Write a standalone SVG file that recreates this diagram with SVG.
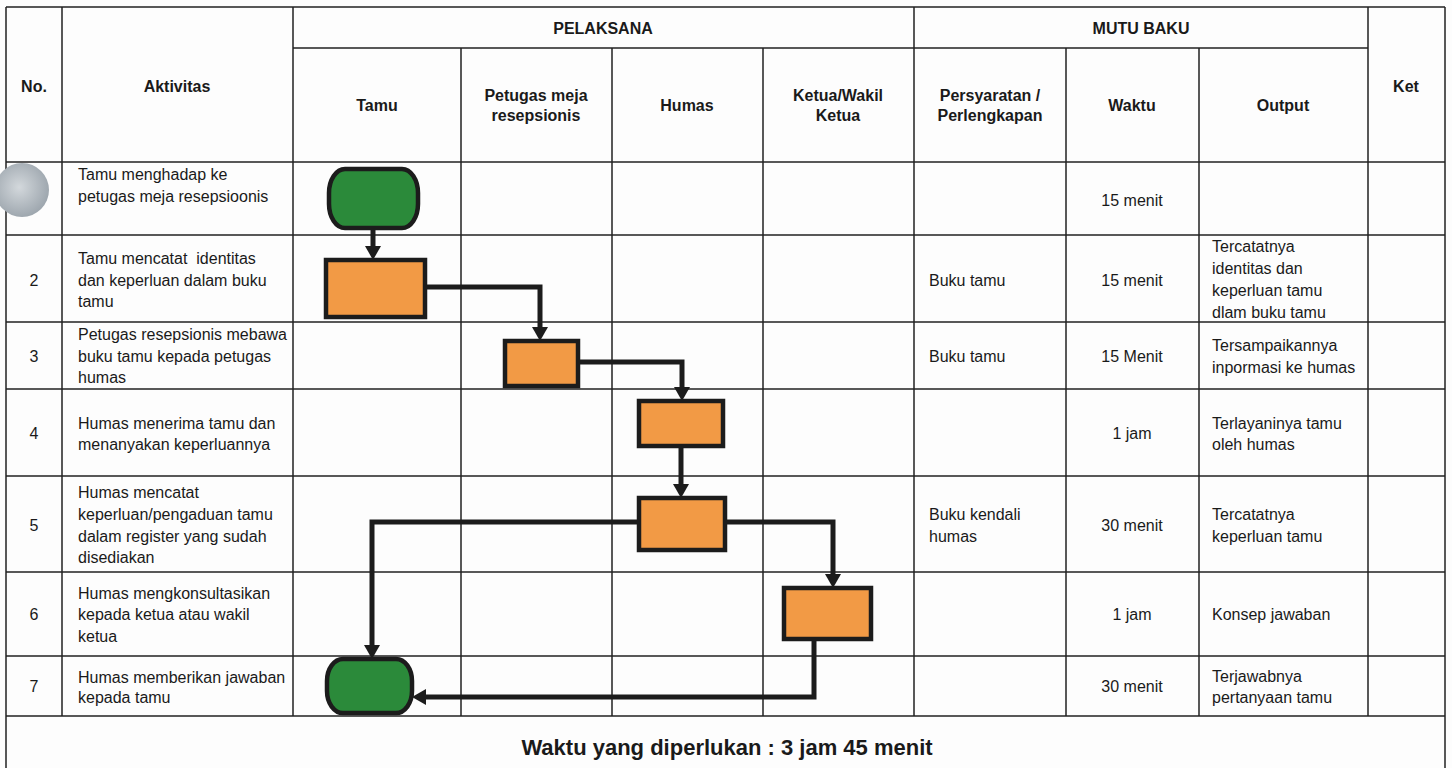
<svg xmlns="http://www.w3.org/2000/svg" width="1452" height="768" viewBox="0 0 1452 768">
<defs>
<style>
.g{stroke:#222;stroke-width:1.5;fill:none}
.t{font-family:"Liberation Sans Narrow","Liberation Sans",Arial,sans-serif;font-size:16px;fill:#1a1a1a}
.c{text-anchor:middle}
.b{font-weight:bold}
.proc{fill:#f29a45;stroke:#1c1c1c;stroke-width:4.5}
.term{fill:#2b8a3a;stroke:#1c1c1c;stroke-width:4.5}
.conn{fill:none;stroke:#1c1c1c;stroke-width:5}
</style>
<marker id="ah" viewBox="0 0 14 16" refX="1" refY="8" markerWidth="14" markerHeight="16" markerUnits="userSpaceOnUse" orient="auto"><path d="M0,0 L14,8 L0,16 z" fill="#1c1c1c"/></marker>
<radialGradient id="hole" cx="0.45" cy="0.45" r="0.6"><stop offset="0" stop-color="#d3d8dc"/><stop offset="1" stop-color="#9aa3ab"/></radialGradient>
</defs>
<rect width="1452" height="768" fill="#fdfdfd"/>
<g id="grid">
<path class="g" d="M6,7 H1445 M6,7 V768 M1445,7 V768 M293,48 H1368 M6,162 H1445 M6,235 H1445 M6,322 H1445 M6,389 H1445 M6,476 H1445 M6,572 H1445 M6,656 H1445 M6,716 H1445 M62,7 V716 M293,7 V716 M461,48 V716 M612,48 V716 M763,48 V716 M914,7 V716 M1066,48 V716 M1199,48 V716 M1368,7 V716"/>
</g>
<g id="header">
<text class="t b c" x="34" y="92">No.</text>
<text class="t b c" x="177" y="92">Aktivitas</text>
<text class="t b c" x="603" y="34">PELAKSANA</text>
<text class="t b c" x="1141" y="34">MUTU BAKU</text>
<text class="t b c" x="1406" y="92">Ket</text>
<text class="t b c" x="377" y="111">Tamu</text>
<text class="t b c" x="536" y="101">Petugas meja</text>
<text class="t b c" x="536" y="121">resepsionis</text>
<text class="t b c" x="687" y="111">Humas</text>
<text class="t b c" x="838" y="101">Ketua/Wakil</text>
<text class="t b c" x="838" y="121">Ketua</text>
<text class="t b c" x="990" y="101">Persyaratan /</text>
<text class="t b c" x="990" y="121">Perlengkapan</text>
<text class="t b c" x="1132" y="111">Waktu</text>
<text class="t b c" x="1283" y="111">Output</text>
</g>
<g id="row1">
<text class="t" x="78" y="180">Tamu menghadap ke</text>
<text class="t" x="78" y="202">petugas meja resepsioonis</text>
<text class="t c" x="1132" y="206">15 menit</text>
</g>
<g id="row2">
<text class="t c" x="34" y="286">2</text>
<text class="t" x="78" y="264" xml:space="preserve">Tamu mencatat  identitas</text>
<text class="t" x="78" y="286">dan keperluan dalam buku</text>
<text class="t" x="78" y="307">tamu</text>
<text class="t" x="929" y="286">Buku tamu</text>
<text class="t c" x="1132" y="286">15 menit</text>
<text class="t" x="1212" y="252">Tercatatnya</text>
<text class="t" x="1212" y="274">identitas dan</text>
<text class="t" x="1212" y="296">keperluan tamu</text>
<text class="t" x="1212" y="318">dlam buku tamu</text>
</g>
<g id="row3">
<text class="t c" x="34" y="362">3</text>
<text class="t" x="78" y="340">Petugas resepsionis mebawa</text>
<text class="t" x="78" y="362">buku tamu kepada petugas</text>
<text class="t" x="78" y="383">humas</text>
<text class="t" x="929" y="362">Buku tamu</text>
<text class="t c" x="1132" y="362">15 Menit</text>
<text class="t" x="1212" y="351">Tersampaikannya</text>
<text class="t" x="1212" y="373">inpormasi ke humas</text>
</g>
<g id="row4">
<text class="t c" x="34" y="439">4</text>
<text class="t" x="78" y="429">Humas menerima tamu dan</text>
<text class="t" x="78" y="450">menanyakan keperluannya</text>
<text class="t c" x="1132" y="439">1 jam</text>
<text class="t" x="1212" y="429">Terlayaninya tamu</text>
<text class="t" x="1212" y="450">oleh humas</text>
</g>
<g id="row5">
<text class="t c" x="34" y="531">5</text>
<text class="t" x="78" y="498">Humas mencatat</text>
<text class="t" x="78" y="520">keperluan/pengaduan tamu</text>
<text class="t" x="78" y="542">dalam register yang sudah</text>
<text class="t" x="78" y="563">disediakan</text>
<text class="t" x="929" y="520">Buku kendali</text>
<text class="t" x="929" y="542">humas</text>
<text class="t c" x="1132" y="531">30 menit</text>
<text class="t" x="1212" y="520">Tercatatnya</text>
<text class="t" x="1212" y="542">keperluan tamu</text>
</g>
<g id="row6">
<text class="t c" x="34" y="620">6</text>
<text class="t" x="78" y="599">Humas mengkonsultasikan</text>
<text class="t" x="78" y="620">kepada ketua atau wakil</text>
<text class="t" x="78" y="642">ketua</text>
<text class="t c" x="1132" y="620">1 jam</text>
<text class="t" x="1212" y="620">Konsep jawaban</text>
</g>
<g id="row7">
<text class="t c" x="34" y="692">7</text>
<text class="t" x="78" y="683">Humas memberikan jawaban</text>
<text class="t" x="78" y="703">kepada tamu</text>
<text class="t c" x="1132" y="692">30 menit</text>
<text class="t" x="1212" y="682">Terjawabnya</text>
<text class="t" x="1212" y="703">pertanyaan tamu</text>
</g>
<g id="footer">
<text class="t b c" x="727" y="755" style="font-size:22px">Waktu yang diperlukan : 3 jam 45 menit</text>
</g>
<g id="connectors">
<path class="conn" marker-end="url(#ah)" d="M373,228 V247"/>
<path class="conn" marker-end="url(#ah)" d="M425,287 H540 V328"/>
<path class="conn" marker-end="url(#ah)" d="M578,362 H682 V388"/>
<path class="conn" marker-end="url(#ah)" d="M681,446 V485"/>
<path class="conn" marker-end="url(#ah)" d="M639,522 H372 V646"/>
<path class="conn" marker-end="url(#ah)" d="M725,522 H833 V575"/>
<path class="conn" marker-end="url(#ah)" d="M814,639 V697 H425"/>
</g>
<g id="n1"><rect class="term" x="329" y="169" width="89" height="59" rx="16" ry="24"/></g>
<g id="n2"><rect class="proc" x="326" y="260" width="99" height="57"/></g>
<g id="n3"><rect class="proc" x="505" y="341" width="73" height="45"/></g>
<g id="n4"><rect class="proc" x="639" y="401" width="84" height="45"/></g>
<g id="n5"><rect class="proc" x="639" y="498" width="86" height="52"/></g>
<g id="n6"><rect class="proc" x="784" y="588" width="87" height="51"/></g>
<g id="n7"><rect class="term" x="327" y="659" width="85" height="54" rx="16" ry="22"/></g>
<g id="punch-hole"><circle cx="22" cy="190" r="27" fill="url(#hole)"/></g>
</svg>
